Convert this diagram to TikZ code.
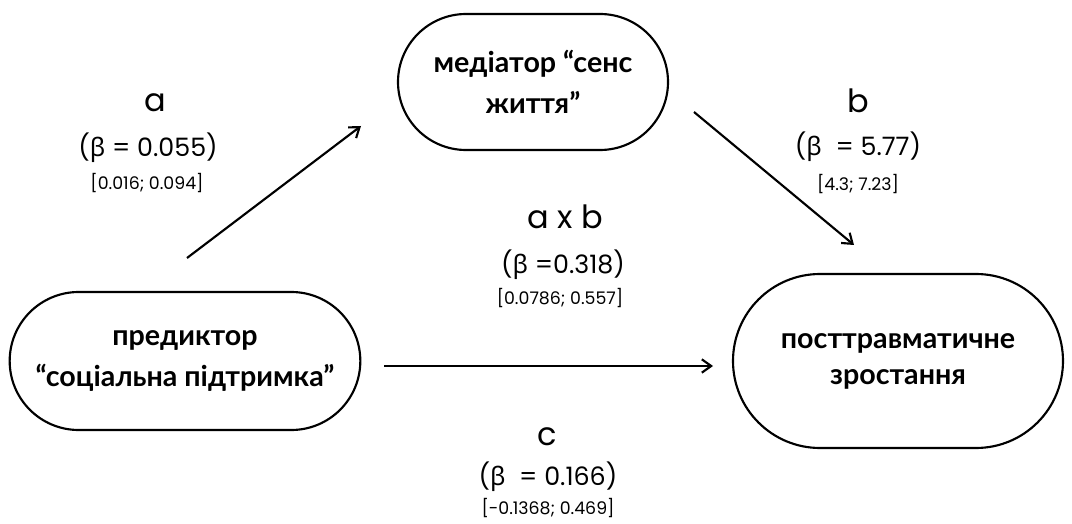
\documentclass[tikz,border=0pt]{standalone}
\usepackage{fontspec}
\setmainfont{Lato}
\newfontfamily\labfont{Poppins}
\newfontfamily\grfont{Noto Sans}
\usetikzlibrary{arrows.meta,shapes.misc}

\begin{document}
\begin{tikzpicture}[
	x=0.75pt, y=-0.75pt,
	var/.style={draw, line width=1.6pt, rounded rectangle, align=center, inner sep=0pt,
		font=\fontsize{21.5}{31}\selectfont\bfseries},
	big/.style={font=\labfont\fontsize{24}{26}\selectfont},
	beta/.style={font=\labfont\fontsize{19}{22}\selectfont},
	ci/.style={font=\labfont\fontsize{13}{15}\selectfont},
	connect/.style={-{Straight Barb[length=7pt,width=10pt]}, line width=1.6pt},
	]
	
	\useasboundingbox (0,0) rectangle (1072,524);
	
	%-----------------------
	% Variables
	%-----------------------
	\node[var, minimum width=202.5pt, minimum height=102pt] (med) at (533,82)
		{медіатор “сенс\\життя”};
	\node[var, minimum width=263pt, minimum height=103.5pt] (pred) at (185,361)
		{предиктор\\“соціальна підтримка”};
	\node[var, minimum width=247.5pt, minimum height=130.5pt,
		font=\fontsize{21.5}{27}\selectfont\bfseries] (out) at (898,361)
		{посттравматичне\\зростання};
	
	%-----------------------
	% Arrow ends (gaps to the boxes)
	%-----------------------
	\coordinate (a-from) at (187,258);
	\coordinate (a-to)   at (361,126);
	\coordinate (b-from) at (694,112);
	\coordinate (b-to)   at (854,245);
	\coordinate (c-from) at (384,366);
	\coordinate (c-to)   at (713,366);
	
	% Paths
	\draw[connect] (a-from) -- (a-to);
	\draw[connect] (b-from) -- (b-to);
	\draw[connect] (c-from) -- (c-to);
	
	%-----------------------
	% Path labels
	%-----------------------
	\node[big]  (lab-a)  at (155,103) {a};
	\node[beta] (beta-a) at (148,148) {({\grfont β} = 0.055)};
	\node[ci]   (ci-a)   at (147,183) {[0.016; 0.094]};
	
	\node[big]  (lab-b)  at (858,101) {b};
	\node[beta] (beta-b) at (858,147) {({\grfont β}\ \ = 5.77)};
	\node[ci]   (ci-b)   at (858,184) {[4.3; 7.23]};
	
	\node[big]  (lab-ab)  at (565,217) {a x b};
	\node[beta] (beta-ab) at (563,265) {({\grfont β} =0.318)};
	\node[ci]   (ci-ab)   at (560,298) {[0.0786; 0.557]};
	
	\node[big]  (lab-c)  at (547,437) {c};
	\node[beta] (beta-c) at (548,477) {({\grfont β}\ \ = 0.166)};
	\node[ci]   (ci-c)   at (548,508) {[-0.1368; 0.469]};
	
\end{tikzpicture}
\end{document}
